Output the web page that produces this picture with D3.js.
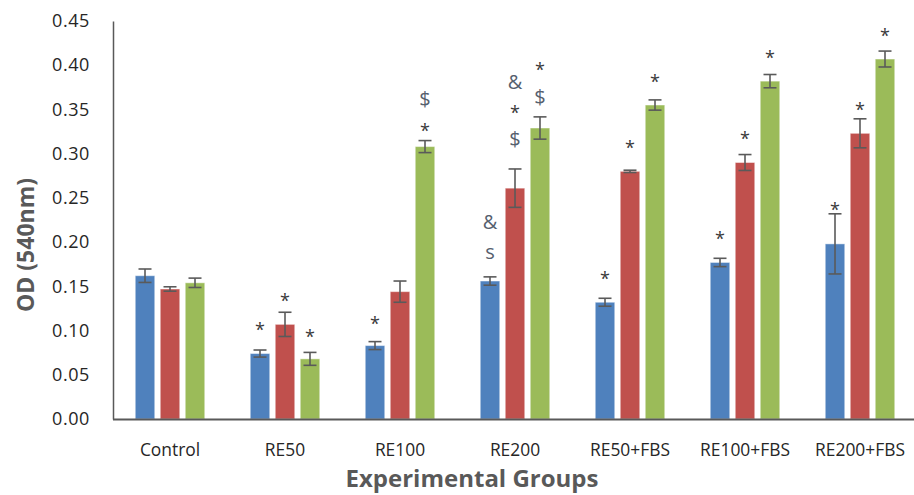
<!DOCTYPE html>
<html>
<head>
<meta charset="utf-8">
<script src="https://cdn.jsdelivr.net/npm/d3@7"></script>
<style>
  html, body { margin: 0; padding: 0; background: #fff; }
  svg { display: block; }
</style>
</head>
<body>
<svg id="chart" width="914" height="495"></svg>
<script>
// Optical density (540 nm) per experimental group, three replicate series
const groups = ["Control", "RE50", "RE100", "RE200", "RE50+FBS", "RE100+FBS", "RE200+FBS"];
const seriesNames = ["s1", "s2", "s3"];
const seriesColors = ["#4F81BD", "#C0504D", "#9BBB59"];

const meanS1 = [0.162, 0.074, 0.083, 0.156, 0.132, 0.177, 0.198];
const meanS2 = [0.147, 0.107, 0.144, 0.261, 0.280, 0.290, 0.323];
const meanS3 = [0.154, 0.068, 0.308, 0.329, 0.355, 0.382, 0.407];

const errS1 = [0.0076, 0.0040, 0.0045, 0.0047, 0.0045, 0.0047, 0.0340];
const errS2 = [0.0025, 0.0137, 0.0120, 0.0217, 0.0013, 0.0090, 0.0164];
const errS3 = [0.0053, 0.0073, 0.0068, 0.0126, 0.0058, 0.0075, 0.0090];

const yTicks = [0, 0.05, 0.10, 0.15, 0.20, 0.25, 0.30, 0.35, 0.40, 0.45];

// Significance marks: group, series index, symbol, height (OD units) where it sits
const marks = [
  ["RE50", 0, "*", 0.1085], ["RE50", 1, "*", 0.1413], ["RE50", 2, "*", 0.1006],
  ["RE100", 0, "*", 0.1157], ["RE100", 2, "*", 0.3336], ["RE100", 2, "$", 0.3615],
  ["RE200", 0, "s", 0.1892], ["RE200", 0, "&", 0.2224],
  ["RE200", 1, "$", 0.3163], ["RE200", 1, "*", 0.3539], ["RE200", 1, "&", 0.3814],
  ["RE200", 2, "$", 0.3644], ["RE200", 2, "*", 0.4029],
  ["RE50+FBS", 0, "*", 0.1666], ["RE50+FBS", 1, "*", 0.3143], ["RE50+FBS", 2, "*", 0.3890],
  ["RE100+FBS", 0, "*", 0.2118], ["RE100+FBS", 1, "*", 0.3249], ["RE100+FBS", 2, "*", 0.4161],
  ["RE200+FBS", 0, "*", 0.2442], ["RE200+FBS", 1, "*", 0.3576], ["RE200+FBS", 2, "*", 0.4413]
];

const means = [meanS1, meanS2, meanS3];
const errs = [errS1, errS2, errS3];
const rows = [];
groups.forEach((g, gi) => {
  seriesNames.forEach((s, si) => {
    rows.push({ group: g, si, value: means[si][gi], err: errs[si][gi] });
  });
});

const svg = d3.select("#chart");
const axisColor = "#595959";
const textColor = "#262626";
const font = "'Open Sans', 'Noto Sans', sans-serif";

const x = d3.scaleBand().domain(groups).range([112.5, 917.5]);
const xSub = d3.scaleBand().domain(d3.range(3)).range([-34.75, 34.75]).paddingInner(0.22);
const y = d3.scaleLinear().domain([0, 0.45]).range([419, 21]);

const cx = (g, si) => x(g) + x.bandwidth() / 2 + xSub(si) + xSub.bandwidth() / 2;

// Y axis
const yAxis = svg.append("g")
  .attr("transform", "translate(113,0)")
  .call(d3.axisLeft(y).tickValues(yTicks).tickFormat(d3.format(".2f")).tickSize(0).tickPadding(23));
yAxis.select(".domain").attr("stroke", axisColor).attr("stroke-width", 1.5);
yAxis.selectAll("text")
  .attr("font-family", font).attr("font-size", 18).attr("fill", textColor)
  .attr("letter-spacing", "0.6px");

// Bars
svg.append("g").selectAll("rect").data(rows).join("rect")
  .attr("x", d => x(d.group) + x.bandwidth() / 2 + xSub(d.si))
  .attr("width", xSub.bandwidth())
  .attr("y", d => y(d.value))
  .attr("height", d => y(0) - y(d.value))
  .attr("fill", d => seriesColors[d.si])
  .attr("stroke", "#ffffff").attr("stroke-opacity", 0.45).attr("stroke-width", 1);

// Error bars
const eb = svg.append("g").attr("stroke", "#5a5a5a").attr("stroke-width", 1.6);
eb.selectAll("line.v").data(rows).join("line").attr("class", "v")
  .attr("x1", d => cx(d.group, d.si)).attr("x2", d => cx(d.group, d.si))
  .attr("y1", d => y(d.value + d.err)).attr("y2", d => y(d.value - d.err));
eb.selectAll("line.t").data(rows).join("line").attr("class", "t")
  .attr("x1", d => cx(d.group, d.si) - 6.5).attr("x2", d => cx(d.group, d.si) + 6.5)
  .attr("y1", d => y(d.value + d.err)).attr("y2", d => y(d.value + d.err));
eb.selectAll("line.b").data(rows).join("line").attr("class", "b")
  .attr("x1", d => cx(d.group, d.si) - 6.5).attr("x2", d => cx(d.group, d.si) + 6.5)
  .attr("y1", d => y(d.value - d.err)).attr("y2", d => y(d.value - d.err));

// X axis
const xAxis = svg.append("g")
  .attr("transform", "translate(0,419)")
  .call(d3.axisBottom(x).tickSize(0).tickPadding(24));
xAxis.select(".domain").attr("stroke", axisColor).attr("stroke-width", 2);
xAxis.selectAll("text")
  .attr("font-family", font).attr("font-size", 18.5).attr("fill", textColor)
  .each(function () {
    const w = this.getComputedTextLength();
    d3.select(this).attr("textLength", w * 0.94).attr("lengthAdjust", "spacingAndGlyphs");
  });

// Significance symbols
svg.append("g").selectAll("text").data(marks).join("text")
  .attr("x", d => cx(d[0], d[1]))
  .attr("y", d => y(d[3]))
  .attr("dy", d => d[2] === "*" ? "0.72em" : "0.36em")
  .attr("text-anchor", "middle")
  .attr("font-family", font)
  .attr("font-size", d => d[2] === "*" ? 18 : 20)
  .attr("fill", d => d[2] === "*" ? "#3a3a3a" : "#56606e")
  .text(d => d[2]);

// Axis titles
svg.append("text")
  .attr("transform", "translate(25,245) rotate(-90)")
  .attr("text-anchor", "middle").attr("dominant-baseline", "central")
  .attr("font-family", font).attr("font-weight", "bold").attr("font-size", 23)
  .attr("fill", axisColor)
  .text("OD (540nm)");

svg.append("text")
  .attr("x", 472).attr("y", 487)
  .attr("text-anchor", "middle")
  .attr("font-family", font).attr("font-weight", "bold").attr("font-size", 24)
  .attr("fill", axisColor)
  .text("Experimental Groups");
</script>
</body>
</html>
